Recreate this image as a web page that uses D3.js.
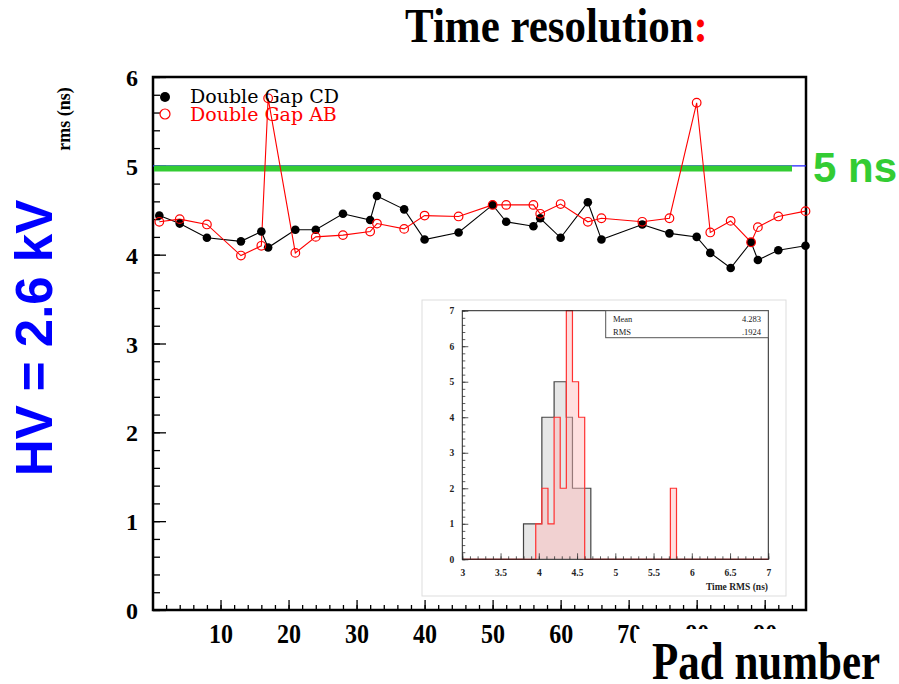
<!DOCTYPE html>
<html>
<head>
<meta charset="utf-8">
<script src="https://cdn.jsdelivr.net/npm/d3@7"></script>
<style>
  body{margin:0;background:#fff;}
  svg{display:block;}
  .serif{font-family:"Liberation Serif","Times New Roman",serif;}
  .sans{font-family:"Liberation Sans",Arial,sans-serif;}
</style>
</head>
<body>
<script>
// pad numbers and time rms (ns) for the two chambers
var pads = [1,4,8,13,16,17,21,24,28,32,33,37,40,45,50,52,56,57,60,64,66,72,76,80,82,85,88,89,92,96];
var rmsCD = [4.44,4.35,4.19,4.15,4.26,4.08,4.28,4.28,4.46,4.39,4.66,4.51,4.17,4.25,4.56,
             4.37,4.32,4.41,4.19,4.59,4.17,4.34,4.24,4.20,4.02,3.85,4.14,3.94,4.05,4.10];
var rmsAB = [4.37,4.40,4.34,3.99,4.10,5.76,4.02,4.20,4.22,4.26,4.35,4.29,4.44,4.43,4.56,
             4.56,4.56,4.46,4.57,4.37,4.41,4.37,4.41,5.71,4.25,4.38,4.14,4.31,4.43,4.49];
var limitNs = 5;

var xTicks = [10,20,30,40,50,60,70,80,90];
var yTicks = [0,1,2,3,4,5,6];

// inset histogram (bin width 0.08 ns, lower edges)
var binWidth = 0.08;
var binsCD = [3.80,3.88,3.96,4.04,4.12,4.20,4.28,4.36,4.44,4.52,4.60];
var countsCD = [1,1,1,4,4,5,5,4,2,2,2];
var binsAB = [3.96,4.04,4.12,4.20,4.28,4.36,4.44,4.52,5.72];
var countsAB = [1,2,1,4,2,7,5,4,2];
var histXTicks = [3,3.5,4,4.5,5,5.5,6,6.5,7];
var histYTicks = [0,1,2,3,4,5,6,7];
var statLabels = ["Mean","RMS"];
var statValues = ["4.283",".1924"];

var W = 899, H = 684;
var svg = d3.select('body').append('svg').attr('width',W).attr('height',H);

var x = d3.scaleLinear().domain([0,96]).range([152.5,805.5]);
var y = d3.scaleLinear().domain([0,6]).range([610,77]);

//title
var title = svg.append('text').attr('class','serif')
  .attr('transform','translate(405,42) scale(1,1.12)')
  .style('font-size','43px').style('font-weight','bold');
title.append('tspan').text('Time resolution');
title.append('tspan').attr('fill','red').text(':');

//axes ticks (inward)
var xMinor = svg.append('g').attr('transform','translate(0,610)')
  .call(d3.axisBottom(x).tickValues(d3.range(2,96,2)).tickSize(-5).tickFormat(''));
var xMajor = svg.append('g').attr('transform','translate(0,610)')
  .call(d3.axisBottom(x).tickValues(xTicks).tickSize(-10).tickPadding(0).tickFormat(d3.format('d')));
xMajor.selectAll('text').attr('y',0).attr('dy',null)
  .attr('transform','translate(0,33) scale(1,1.15)')
  .attr('class','serif').style('font-size','24px').style('font-weight','bold').attr('fill','#000');
var yMinor = svg.append('g').attr('transform','translate(153,0)')
  .call(d3.axisLeft(y).tickValues(d3.range(0,6.01,0.2)).tickSize(-7).tickFormat(''));
var yMajor = svg.append('g').attr('transform','translate(153,0)')
  .call(d3.axisLeft(y).tickValues(yTicks).tickSize(-13).tickPadding(15).tickFormat(d3.format('d')));
yMajor.selectAll('text').attr('class','serif').attr('dy','0.36em')
  .style('font-size','24px').style('font-weight','bold').attr('fill','#000');
[xMinor,xMajor,yMinor,yMajor].forEach(function(g){
  g.select('.domain').remove();
  g.selectAll('line').attr('stroke','#000').attr('stroke-width',1.3);
});

//frame
svg.append('rect').attr('x',153).attr('y',77).attr('width',653).attr('height',533)
  .attr('fill','none').attr('stroke','#000').attr('stroke-width',2.5);

//5 ns limit
svg.append('line').attr('x1',153).attr('x2',806).attr('y1',y(limitNs)).attr('y2',y(limitNs))
  .attr('stroke','#2020ff').attr('stroke-width',1.2);
svg.append('line').attr('x1',154).attr('x2',792).attr('y1',y(limitNs)+2.6).attr('y2',y(limitNs)+2.6)
  .attr('stroke','#33cc33').attr('stroke-width',6);
svg.append('text').attr('class','sans').attr('x',813).attr('y',182)
  .style('font-size','42px').style('font-weight','bold').attr('fill','#33cc33').text('5 ns');

//series
var line = d3.line().x(function(d){return x(d[0]);}).y(function(d){return y(d[1]);});
var cd = pads.map(function(p,i){return [p,rmsCD[i]];});
var ab = pads.map(function(p,i){return [p,rmsAB[i]];});
svg.append('path').datum(cd).attr('d',line).attr('fill','none').attr('stroke','#000').attr('stroke-width',1.1);
svg.append('path').datum(ab).attr('d',line).attr('fill','none').attr('stroke','red').attr('stroke-width',1.1);
svg.append('g').selectAll('circle').data(cd).enter().append('circle')
  .attr('cx',function(d){return x(d[0]);}).attr('cy',function(d){return y(d[1]);})
  .attr('r',4.3).attr('fill','#000');
svg.append('g').selectAll('circle').data(ab).enter().append('circle')
  .attr('cx',function(d){return x(d[0]);}).attr('cy',function(d){return y(d[1]);})
  .attr('r',4.3).attr('fill','none').attr('stroke','red').attr('stroke-width',1.2);

//legend
svg.append('circle').attr('cx',165).attr('cy',97).attr('r',5).attr('fill','#000');
svg.append('circle').attr('cx',165).attr('cy',114).attr('r',5).attr('fill','#fff')
  .attr('stroke','red').attr('stroke-width',1.2);
svg.append('text').attr('x',190).attr('y',103).style('font-family','"DejaVu Serif",serif')
  .style('font-size','19px').attr('fill','#000').text('Double Gap CD');
svg.append('text').attr('x',190).attr('y',121).style('font-family','"DejaVu Serif",serif')
  .style('font-size','19px').attr('fill','red').text('Double Gap AB');

/* inset histogram */
var inset = svg.append('g');
inset.append('rect').attr('x',422).attr('y',300).attr('width',364).attr('height',296)
  .attr('fill','#fff').attr('stroke','#ddd');
var hx = d3.scaleLinear().domain([3,7]).range([462.3,768.3]);
var hy = d3.scaleLinear().domain([0,7]).range([559.3,310.7]);

function fullCounts(bins,counts){
  var n = Math.round(4/binWidth), arr = d3.range(n+1).map(function(){return 0;});
  bins.forEach(function(b,i){arr[Math.round((b-3)/binWidth)] = counts[i];});
  return arr.map(function(c,i){return [3+i*binWidth,c];});
}
var area = d3.area().curve(d3.curveStepAfter)
  .x(function(d){return hx(d[0]);}).y0(hy(0)).y1(function(d){return hy(d[1]);});
var step = d3.line().curve(d3.curveStepAfter)
  .x(function(d){return hx(d[0]);}).y(function(d){return hy(d[1]);});
var hCD = fullCounts(binsCD,countsCD), hAB = fullCounts(binsAB,countsAB);
inset.append('path').datum(hCD).attr('d',area).attr('fill','#e6e6e6');
inset.append('path').datum(hCD).attr('d',step).attr('fill','none').attr('stroke','#444').attr('stroke-width',1.2);
inset.append('path').datum(hAB).attr('d',area).attr('fill','#ffb8b8').attr('fill-opacity',0.45);
inset.append('path').datum(hAB).attr('d',step).attr('fill','none').attr('stroke','#ff3030').attr('stroke-width',1.2);

var hxMinor = inset.append('g').attr('transform','translate(0,559.3)')
  .call(d3.axisBottom(hx).tickValues(d3.range(3,7.001,0.1)).tickSize(-3).tickFormat(''));
var hxMajor = inset.append('g').attr('transform','translate(0,559.3)')
  .call(d3.axisBottom(hx).tickValues(histXTicks).tickSize(-6).tickPadding(10).tickFormat(d3.format('')));
var hyMinor = inset.append('g').attr('transform','translate(462.3,0)')
  .call(d3.axisLeft(hy).tickValues(d3.range(0,7.001,0.2)).tickSize(-3).tickFormat(''));
var hyMajor = inset.append('g').attr('transform','translate(462.3,0)')
  .call(d3.axisLeft(hy).tickValues(histYTicks).tickSize(-6).tickPadding(8).tickFormat(d3.format('d')));
[hxMinor,hxMajor,hyMinor,hyMajor].forEach(function(g){
  g.select('.domain').remove();
  g.selectAll('line').attr('stroke','#333').attr('stroke-width',0.8);
  g.selectAll('text').attr('class','serif').style('font-size','9.5px').style('font-weight','bold').attr('fill','#222');
});
inset.append('rect').attr('x',462.3).attr('y',310.7).attr('width',306).attr('height',248.6)
  .attr('fill','none').attr('stroke','#222').attr('stroke-width',1);
inset.append('text').attr('class','serif').attr('x',768).attr('y',590).attr('text-anchor','end')
  .style('font-size','9.5px').style('font-weight','bold').attr('fill','#222').text('Time RMS (ns)');

//stat box
inset.append('rect').attr('x',605.7).attr('y',310.7).attr('width',162.6).attr('height',27)
  .attr('fill','#fff').attr('stroke','#555').attr('stroke-width',1);
statLabels.forEach(function(s,i){
  inset.append('text').attr('class','serif').attr('x',613).attr('y',322+i*13)
    .style('font-size','8.5px').attr('fill','#222').text(s);
  inset.append('text').attr('class','serif').attr('x',761).attr('y',322+i*13).attr('text-anchor','end')
    .style('font-size','8.5px').attr('fill','#222').text(statValues[i]);
});

//axis titles
svg.append('text').attr('class','serif').attr('transform','translate(70,119) rotate(-90)')
  .attr('text-anchor','middle').style('font-size','18px').style('font-weight','bold').text('rms (ns)');
svg.append('text').attr('class','sans').attr('transform','translate(52,338) rotate(-90)')
  .attr('text-anchor','middle').style('font-size','51px').style('font-weight','bold')
  .attr('fill','#0000ff').text('HV = 2.6 kV');

// pad number label sits on a white box that hides part of the tick labels
svg.append('rect').attr('x',636).attr('y',629).attr('width',W-636).attr('height',H-629).attr('fill','#fff');
svg.append('text').attr('class','serif').attr('transform','translate(652,679) scale(1,1.22)')
  .style('font-size','43px').style('font-weight','bold').text('Pad number');
</script>
</body>
</html>
